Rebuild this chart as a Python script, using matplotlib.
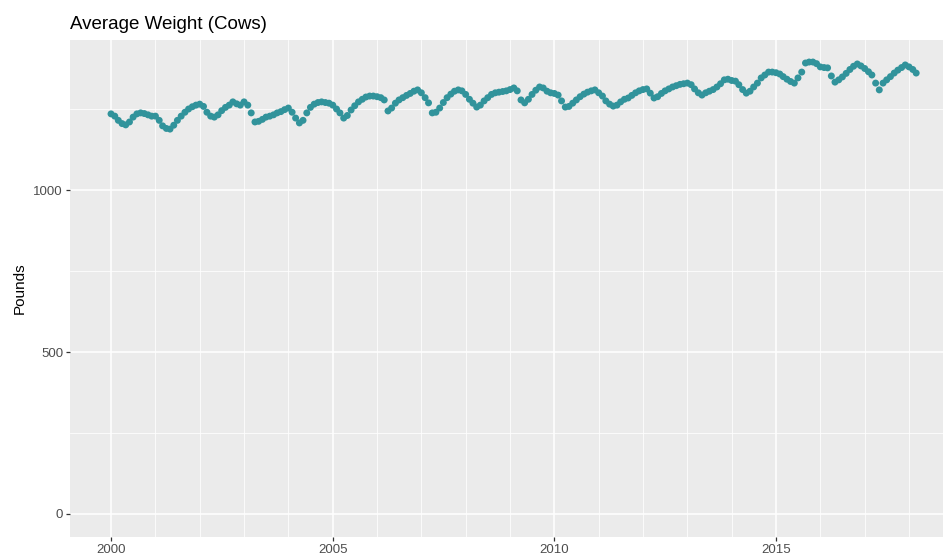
import matplotlib
matplotlib.use("Agg")
import matplotlib.pyplot as plt
import matplotlib.dates as mdates
import pandas as pd

plt.rcParams["font.family"] = ["Liberation Sans", "DejaVu Sans"]

# monthly average weight, Jan 2000 .. Mar 2018
w2000 = [1235, 1228, 1215, 1205, 1201, 1210, 1225, 1235, 1238, 1236, 1232, 1228]
w2001 = [1228, 1215, 1198, 1190, 1188, 1200, 1215, 1228, 1240, 1250, 1257, 1262]
w2002 = [1265, 1258, 1240, 1228, 1225, 1232, 1245, 1255, 1262, 1272, 1266, 1262]
w2003 = [1272, 1262, 1238, 1210, 1212, 1218, 1225, 1228, 1232, 1238, 1242, 1248]
w2004 = [1253, 1240, 1222, 1207, 1215, 1238, 1255, 1265, 1270, 1272, 1270, 1268]
w2005 = [1262, 1250, 1238, 1222, 1230, 1247, 1260, 1272, 1280, 1287, 1290, 1290]
w2006 = [1288, 1285, 1278, 1244, 1253, 1268, 1278, 1285, 1292, 1298, 1305, 1309]
w2007 = [1300, 1285, 1269, 1238, 1240, 1253, 1270, 1285, 1296, 1305, 1309, 1306]
w2008 = [1295, 1280, 1268, 1256, 1262, 1275, 1285, 1295, 1300, 1302, 1304, 1306]
w2009 = [1310, 1315, 1306, 1278, 1269, 1280, 1295, 1308, 1318, 1315, 1305, 1300]
w2010 = [1298, 1293, 1275, 1256, 1258, 1268, 1278, 1288, 1296, 1302, 1306, 1309]
w2011 = [1300, 1290, 1275, 1265, 1259, 1262, 1272, 1280, 1284, 1292, 1300, 1306]
w2012 = [1310, 1312, 1299, 1284, 1288, 1298, 1306, 1312, 1318, 1322, 1326, 1328]
w2013 = [1330, 1325, 1312, 1300, 1293, 1300, 1305, 1310, 1318, 1328, 1340, 1342]
w2014 = [1338, 1336, 1325, 1310, 1299, 1305, 1318, 1330, 1346, 1355, 1364, 1364]
w2015 = [1362, 1358, 1350, 1342, 1335, 1330, 1346, 1364, 1392, 1395, 1395, 1390]
w2016 = [1380, 1378, 1377, 1352, 1333, 1340, 1349, 1360, 1372, 1382, 1389, 1383]
w2017 = [1375, 1365, 1355, 1330, 1309, 1330, 1340, 1350, 1361, 1370, 1378, 1386]
w2018 = [1380, 1372, 1361]

weights = (w2000 + w2001 + w2002 + w2003 + w2004 + w2005 + w2006 + w2007 + w2008
           + w2009 + w2010 + w2011 + w2012 + w2013 + w2014 + w2015 + w2016 + w2017 + w2018)
dates = pd.date_range("2000-01-01", periods=len(weights), freq="MS")

fig = plt.figure(figsize=(9.43, 5.57), dpi=100)
ax = fig.add_axes([70 / 943, 20 / 557, 873 / 943, 497 / 557])
ax.set_facecolor("#EBEBEB")
ax.scatter(dates, weights, s=25, color="#31939B", edgecolors="none", zorder=3)

ax.set_xlim(pd.Timestamp("1999-01-28"), pd.Timestamp("2018-10-08"))
ax.set_ylim(-71, 1463)
ax.xaxis.set_major_locator(mdates.YearLocator(5))
ax.xaxis.set_minor_locator(mdates.YearLocator(1))
ax.xaxis.set_major_formatter(mdates.DateFormatter("%Y"))
ax.set_yticks([0, 500, 1000])
ax.set_yticks([250, 750, 1250], minor=True)

ax.grid(which="major", color="white", lw=1.1)
ax.grid(which="minor", color="white", lw=0.55)
ax.set_axisbelow(True)
for sp in ax.spines.values():
    sp.set_visible(False)
ax.tick_params(which="major", length=3, width=0.9, color="#333333",
               labelcolor="#4D4D4D", labelsize=9.5, pad=2)
ax.tick_params(which="minor", length=0)

ax.set_ylabel("Pounds", fontsize=11, labelpad=5)
ax.set_title("Average Weight (Cows)", fontsize=13.5, loc="left", pad=8)

fig.savefig("out.png", dpi=100)
